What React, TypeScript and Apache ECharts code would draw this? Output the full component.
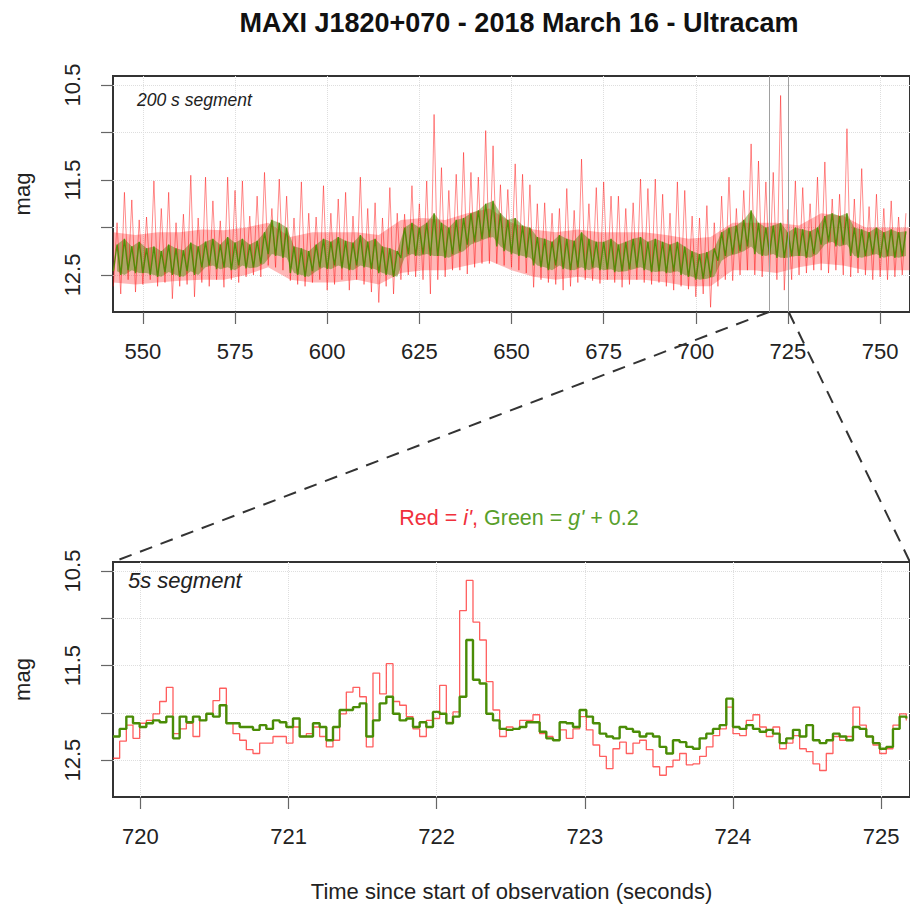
import React, { useEffect, useRef } from "react";
import * as echarts from "echarts";

const chartTitle = "MAXI J1820+070 - 2018 March 16 - Ultracam";
const xAxisTitle = "Time since start of observation (seconds)";
const yAxisTitle = "mag";

// axis ranges
const topRange = [541.9, 758.1];
const zoomRange = [719.815, 725.195];
const magRange = [10.405, 12.89];

// ticks
const topTicks = [550, 575, 600, 625, 650, 675, 700, 725, 750];
const bottomTicks = [720, 721, 722, 723, 724, 725];
const magTicks = [10.5, 11, 11.5, 12, 12.5];
const magLabels = [10.5, 11.5, 12.5];

// 200 s segment: envelope read per 2 s bin (bin start = 542 + 2k)
const topBinStart = 542;
const topBinWidth = 2;
const topRedHigh = [
  11.95, 11.63, 11.71, 11.92, 11.89, 11.51, 11.8, 11.63, 11.95, 11.86,
  11.45, 11.9, 11.47, 11.72, 11.93, 11.47, 11.61, 11.51, 11.88, 11.67,
  11.42, 11.8, 11.49, 11.67, 11.9, 11.52, 11.85, 11.89, 11.56, 11.85,
  11.7, 11.63, 11.88, 11.47, 11.8, 11.74, 11.9, 11.58, 11.85, 11.86,
  11.56, 11.75, 11.51, 10.81, 11.37, 11.61, 11.44, 11.21, 11.42, 11.47,
  10.98, 11.14, 11.55, 11.6, 11.33, 11.44, 11.55, 11.75, 11.74, 11.85,
  11.8, 11.59, 11.82, 11.28, 11.75, 11.58, 11.52, 11.67, 11.67, 11.8,
  11.74, 11.49, 11.59, 11.49, 11.65, 11.85, 11.52, 11.61, 11.88, 11.9,
  11.77, 11.95, 11.67, 11.47, 11.8, 11.61, 11.12, 11.3, 11.52, 11.42,
  10.61, 11.81, 11.51, 11.58, 11.75, 11.47, 11.31, 11.7, 11.65, 10.96,
  11.7, 11.38, 11.78, 11.65, 11.8, 11.72, 11.89, 11.85,
];
const topRedLow = [
  12.62, 12.7, 12.55, 12.68, 12.6, 12.55, 12.62, 12.58, 12.75, 12.62,
  12.6, 12.73, 12.58, 12.62, 12.55, 12.63, 12.55, 12.58, 12.52, 12.5,
  12.52, 12.4, 12.42, 12.45, 12.56, 12.6, 12.62, 12.58, 12.55, 12.66,
  12.6, 12.55, 12.66, 12.55, 12.6, 12.68, 12.79, 12.62, 12.7, 12.55,
  12.5, 12.52, 12.55, 12.7, 12.55, 12.52, 12.45, 12.45, 12.49, 12.42,
  12.38, 12.38, 12.38, 12.4, 12.42, 12.45, 12.48, 12.63, 12.55, 12.58,
  12.6, 12.66, 12.62, 12.58, 12.55, 12.56, 12.59, 12.55, 12.58, 12.63,
  12.6, 12.55, 12.58, 12.6, 12.58, 12.62, 12.66, 12.62, 12.65, 12.73,
  12.7, 12.84, 12.62, 12.55, 12.56, 12.5, 12.45, 12.5, 12.52, 12.5,
  12.55, 12.66, 12.55, 12.5, 12.48, 12.45, 12.45, 12.48, 12.45, 12.5,
  12.52, 12.48, 12.5, 12.55, 12.52, 12.55, 12.52, 12.5,
];
const topGreenHigh = [
  12.18, 12.12, 12.2, 12.15,
  12.22, 12.2, 12.25, 12.18, 12.22, 12.24, 12.16, 12.2,
  12.15, 12.12, 12.18, 12.1, 12.16, 12.12, 12.18, 12.14, 12.05,
  11.92, 11.95, 12.0,
  12.2, 12.22, 12.25, 12.18,
  12.12, 12.15, 12.1, 12.14, 12.16, 12.08, 12.15, 12.12, 12.2,
  12.22, 12.25,
  12.0, 11.95, 12.0, 11.95, 11.85,
  11.95, 12.0, 11.92, 11.9,
  11.85, 11.82, 11.75, 11.72, 11.85,
  11.92, 11.9, 11.98, 12.0,
  12.1, 12.12, 12.15, 12.08, 12.12, 12.14, 12.05, 12.12, 12.15,
  12.15, 12.12, 12.18, 12.15, 12.12, 12.1, 12.15, 12.12, 12.15, 12.18, 12.15, 12.2,
  12.25, 12.28, 12.26, 12.22,
  12.05, 12.0, 11.98, 11.92, 11.82,
  11.95, 12.0, 11.98, 11.95, 12.05, 12.0, 12.02, 12.04, 12.0,
  11.88, 11.85, 11.88, 11.85,
  12.0, 12.02, 12.05, 12.0, 12.05, 12.02, 12.05, 12.04,
];
const topGreenLow = [
  12.46, 12.5, 12.45, 12.48,
  12.48, 12.5, 12.52, 12.47, 12.5, 12.52, 12.46, 12.5,
  12.42, 12.4, 12.44, 12.42, 12.45, 12.4, 12.43, 12.42, 12.38,
  12.28, 12.3, 12.32,
  12.48, 12.5, 12.52, 12.46,
  12.42, 12.44, 12.4, 12.43, 12.45, 12.4, 12.42, 12.44, 12.48,
  12.5, 12.52,
  12.32, 12.28, 12.3, 12.28, 12.3,
  12.3, 12.32, 12.28, 12.25,
  12.18, 12.15, 12.12, 12.1, 12.2,
  12.25, 12.28, 12.3, 12.32,
  12.4, 12.42, 12.45, 12.4, 12.44, 12.45, 12.42, 12.45, 12.42,
  12.45, 12.44, 12.47, 12.46, 12.44, 12.42, 12.45, 12.47, 12.46, 12.48, 12.46, 12.5,
  12.52, 12.55, 12.54, 12.52,
  12.35, 12.3, 12.28, 12.25, 12.2,
  12.28, 12.3, 12.28, 12.32, 12.32, 12.3, 12.3, 12.32, 12.28,
  12.18, 12.15, 12.2, 12.18,
  12.3, 12.32, 12.3, 12.28, 12.32, 12.3, 12.32, 12.3,
];

// dense red core of the 200 s segment, read every 6 s (542 ... 758)
const coreStart = 542;
const coreStep = 6;
const topRedCoreHigh = [
  12.05, 12.08, 12.05, 12.05, 12.02, 12.03, 12.0, 11.95, 12.1, 12.05,
  12.05, 12.05, 12.08, 11.92, 11.9, 11.92, 11.85, 11.8, 11.95, 12.02,
  12.05, 12.02, 12.05, 12.05, 12.05, 12.08, 12.12, 12.1, 11.95, 11.95,
  11.95, 11.98, 11.85, 11.88, 12.0, 12.0, 12.0,
];
const topRedCoreLow = [
  12.58, 12.6, 12.58, 12.56, 12.55, 12.55, 12.5, 12.42, 12.55, 12.58,
  12.58, 12.55, 12.6, 12.48, 12.45, 12.45, 12.4, 12.35, 12.45, 12.52,
  12.55, 12.52, 12.55, 12.55, 12.55, 12.58, 12.62, 12.62, 12.45, 12.45,
  12.48, 12.42, 12.38, 12.4, 12.45, 12.45, 12.45,
];

// 5 s segment: step samples starting at zoomStart, every zoomStep seconds
const zoomStart = 719.815;
const zoomStep = 0.045;
const zoomRed = [
  12.48, 12.3, 12.13, 12.27, 12.11, 12.08, 12.01, 11.88, 11.73, 12.22,
  12.17, 12.11, 12.25, 12.08, 12.01, 11.87, 11.74, 12.11, 12.22, 12.29,
  12.39, 12.43, 12.32, 12.32, 12.25, 12.25, 12.32, 12.15, 12.25, 12.22,
  12.15, 12.25, 12.36, 12.29, 12.01, 11.78, 11.73, 11.83, 12.36, 11.58,
  11.8, 11.48, 11.88, 11.92, 12.04, 12.17, 12.25, 12.08, 12.06, 11.71,
  12.1, 11.99, 10.92, 10.6, 11.04, 11.23, 11.67, 11.97, 12.25, 12.15,
  12.17, 12.08, 12.08, 12.02, 12.22, 12.25, 12.29, 12.18, 12.27, 12.17,
  12.04, 12.18, 12.34, 12.46, 12.59, 12.38, 12.31, 12.43, 12.32, 12.29,
  12.39, 12.57, 12.66, 12.57, 12.5, 12.43, 12.55, 12.54, 12.46, 12.36,
  12.24, 12.17, 11.94, 12.22, 12.24, 12.08, 12.02, 12.15, 12.25, 12.15,
  12.38, 12.32, 12.24, 12.38, 12.41, 12.54, 12.61, 12.43, 12.25, 12.29,
  12.25, 11.94, 12.13, 12.25, 12.34, 12.43, 12.38, 12.13, 12.01, 12.08,
];
const zoomGreen = [
  12.25, 12.17, 12.04, 12.11, 12.15, 12.11, 12.08, 12.1, 12.04, 12.27,
  12.04, 12.1, 12.04, 12.08, 12.01, 12.04, 11.92, 12.11, 12.11, 12.15,
  12.15, 12.18, 12.13, 12.17, 12.08, 12.1, 12.15, 12.06, 12.25, 12.25,
  12.11, 12.15, 12.29, 12.15, 11.97, 11.97, 11.94, 11.9, 12.25, 12.08,
  11.9, 11.83, 12.01, 12.08, 12.06, 12.15, 12.1, 12.15, 11.99, 12.01,
  12.11, 12.04, 11.83, 11.23, 11.65, 11.69, 12.01, 12.08, 12.17, 12.18,
  12.17, 12.15, 12.1, 12.1, 12.2, 12.27, 12.29, 12.1, 12.11, 12.15,
  11.97, 12.04, 12.11, 12.22, 12.25, 12.27, 12.15, 12.17, 12.2, 12.25,
  12.22, 12.25, 12.36, 12.43, 12.29, 12.31, 12.36, 12.38, 12.27, 12.22,
  12.17, 12.13, 11.85, 12.15, 12.17, 12.13, 12.17, 12.2, 12.18, 12.22,
  12.32, 12.27, 12.18, 12.25, 12.13, 12.29, 12.32, 12.29, 12.22, 12.25,
  12.29, 12.15, 12.17, 12.25, 12.32, 12.38, 12.36, 12.17, 12.04, 12.06,
];

const FONT = "'Liberation Sans', Arial, Helvetica, sans-serif";
const RED_SPIKE = "rgba(255,0,0,0.45)";
const RED_CORE = "rgba(255,20,20,0.3)";
const GREEN_TOP = "rgba(72,140,0,0.9)";
const GREEN_FILL = "rgba(72,140,0,0.45)";
const RED_LINE = "rgba(255,40,40,0.75)";
const GREEN_LINE = "#4a8c06";

function zigzag(bot: number[], top: number[]) {
  const out: number[][] = [];
  bot.forEach((b, k) => {
    const t = topBinStart + k * topBinWidth;
    out.push([t, b]);
    out.push([t + topBinWidth / 2, top[k]]);
  });
  return out;
}

function steps(vals: number[]) {
  return vals.map((v, i) => [zoomStart + i * zoomStep, v]);
}

// band between two envelopes, drawn as one polygon through the axis scales
function bandSeries(name: string, xs: number[], hi: number[], lo: number[], color: string) {
  return {
    name,
    type: "custom",
    xAxisIndex: 0,
    yAxisIndex: 0,
    silent: true,
    clip: true,
    data: [[xs[0], hi[0]]],
    renderItem: (_params: any, api: any) => {
      const upper = xs.map((x, k) => api.coord([x, hi[k]]));
      const lower = xs.map((x, k) => api.coord([x, lo[k]])).reverse();
      return {
        type: "polygon",
        shape: { points: upper.concat(lower) },
        style: { fill: color, stroke: "none" },
      };
    },
  };
}

function xAxisFor(gridIndex: number, range: number[], ticks: number[], withName: boolean) {
  return {
    type: "value",
    gridIndex,
    min: range[0],
    max: range[1],
    name: withName ? xAxisTitle : "",
    nameLocation: "middle",
    nameGap: 83,
    nameTextStyle: { fontSize: 22, color: "#222", fontFamily: FONT },
    axisLine: { show: false, onZero: false },
    axisTick: { show: true, customValues: ticks, length: 12, lineStyle: { color: "#666", width: 1.2 } },
    axisLabel: {
      customValues: ticks,
      margin: 28,
      fontSize: 22,
      color: "#222",
      fontFamily: FONT,
      formatter: (v: number) => String(v),
    },
    splitLine: { show: true, lineStyle: { color: "#dedede", type: "dotted", width: 1 } },
  };
}

function yAxisFor(gridIndex: number) {
  return {
    type: "value",
    gridIndex,
    inverse: true,
    min: magRange[0],
    max: magRange[1],
    name: yAxisTitle,
    nameLocation: "middle",
    nameGap: 80,
    nameRotate: 90,
    nameTextStyle: { fontSize: 22, color: "#222", fontFamily: FONT },
    axisLine: { show: false, onZero: false },
    axisTick: { show: true, customValues: magTicks, length: 12, lineStyle: { color: "#666", width: 1.2 } },
    axisLabel: {
      customValues: magLabels,
      rotate: 90,
      margin: 30,
      fontSize: 22,
      color: "#222",
      fontFamily: FONT,
      formatter: (v: number) => v.toFixed(1),
    },
    splitLine: { show: true, lineStyle: { color: "#dedede", type: "dotted", width: 1 } },
  };
}

export default function App() {
  const ref = useRef<HTMLDivElement>(null);

  useEffect(() => {
    if (!ref.current) return;
    const chart = echarts.init(ref.current, null, { renderer: "svg" });
    const coreXs = topRedCoreHigh.map((_, k) => coreStart + k * coreStep);
    const greenXs = topGreenHigh.map((_, k) => topBinStart + k * topBinWidth + topBinWidth / 2);
    const option: any = {
      animation: false,
      backgroundColor: "#ffffff",
      textStyle: { fontFamily: FONT },
      title: {
        text: chartTitle,
        left: 514,
        top: 4,
        textAlign: "center",
        textStyle: { fontSize: 27, fontWeight: "bold", color: "#111", fontFamily: FONT },
      },
      grid: [
        { left: 113, top: 76, width: 802, height: 236, show: true, borderColor: "#333", borderWidth: 2, backgroundColor: "transparent" },
        { left: 113, top: 562, width: 802, height: 235, show: true, borderColor: "#333", borderWidth: 2, backgroundColor: "transparent" },
      ],
      xAxis: [xAxisFor(0, topRange, topTicks, false), xAxisFor(1, zoomRange, bottomTicks, true)],
      yAxis: [yAxisFor(0), yAxisFor(1)],
      series: [
        bandSeries("i' core (200 s)", coreXs, topRedCoreHigh, topRedCoreLow, RED_CORE),
        {
          name: "i' (200 s)",
          type: "line",
          xAxisIndex: 0,
          yAxisIndex: 0,
          data: zigzag(topRedLow, topRedHigh),
          showSymbol: false,
          symbol: "none",
          lineStyle: { color: RED_SPIKE, width: 1 },
          markLine: {
            silent: true,
            symbol: ["none", "none"],
            label: { show: false },
            lineStyle: { color: "#a0a0a0", width: 1, type: "solid" },
            data: [{ xAxis: zoomRange[0] }, { xAxis: zoomRange[1] }],
          },
        },
        bandSeries("g' band (200 s)", greenXs, topGreenHigh, topGreenLow, GREEN_FILL),
        {
          name: "g' + 0.2 (200 s)",
          type: "line",
          xAxisIndex: 0,
          yAxisIndex: 0,
          data: zigzag(topGreenLow, topGreenHigh),
          showSymbol: false,
          symbol: "none",
          lineStyle: { color: GREEN_TOP, width: 1.4 },
        },
        {
          name: "i' (5 s)",
          type: "line",
          xAxisIndex: 1,
          yAxisIndex: 1,
          step: "end",
          data: steps(zoomRed),
          showSymbol: false,
          symbol: "none",
          lineStyle: { color: RED_LINE, width: 1.3 },
        },
        {
          name: "g' + 0.2 (5 s)",
          type: "line",
          xAxisIndex: 1,
          yAxisIndex: 1,
          step: "end",
          data: steps(zoomGreen),
          showSymbol: false,
          symbol: "none",
          lineStyle: { color: GREEN_LINE, width: 2.4 },
        },
      ],
    };
    chart.setOption(option);

    const a1 = chart.convertToPixel({ gridIndex: 0 } as any, [zoomRange[0], magRange[1]]) as number[];
    const a2 = chart.convertToPixel({ gridIndex: 1 } as any, [zoomRange[0], magRange[0]]) as number[];
    const b1 = chart.convertToPixel({ gridIndex: 0 } as any, [zoomRange[1], magRange[1]]) as number[];
    const b2 = chart.convertToPixel({ gridIndex: 1 } as any, [zoomRange[1], magRange[0]]) as number[];
    const dash = { stroke: "#333", lineWidth: 2, lineDash: [13, 9] };

    chart.setOption({
      graphic: [
        { type: "line", z: 50, shape: { x1: a1[0], y1: a1[1], x2: a2[0], y2: a2[1] }, style: dash },
        { type: "line", z: 50, shape: { x1: b1[0], y1: b1[1], x2: b2[0], y2: b2[1] }, style: dash },
        {
          type: "text",
          x: 137,
          y: 91,
          z: 60,
          style: { text: "200 s segment", fontSize: 17.5, fontStyle: "italic", fill: "#222", fontFamily: FONT, verticalAlign: "top" },
        },
        {
          type: "text",
          x: 128,
          y: 569,
          z: 60,
          style: { text: "5s segment", fontSize: 22, fontStyle: "italic", fill: "#222", fontFamily: FONT, verticalAlign: "top" },
        },
        {
          type: "text",
          x: 519,
          y: 518,
          z: 60,
          style: {
            text: "{r|Red = }{ri|i'}{r|, }{g|Green = }{gi|g'}{g| + 0.2}",
            align: "center",
            verticalAlign: "middle",
            fontFamily: FONT,
            fontSize: 21.5,
            rich: {
              r: { fill: "#f0303c", fontSize: 21.5, fontFamily: FONT },
              ri: { fill: "#f0303c", fontSize: 21.5, fontStyle: "italic", fontFamily: FONT },
              g: { fill: "#58a02a", fontSize: 21.5, fontFamily: FONT },
              gi: { fill: "#58a02a", fontSize: 21.5, fontStyle: "italic", fontFamily: FONT },
            },
          },
        },
      ],
    });

    return () => chart.dispose();
  }, []);

  return (
    <div
      ref={ref}
      style={{ position: "absolute", left: 0, top: 0, width: 910, height: 904 }}
    />
  );
}
